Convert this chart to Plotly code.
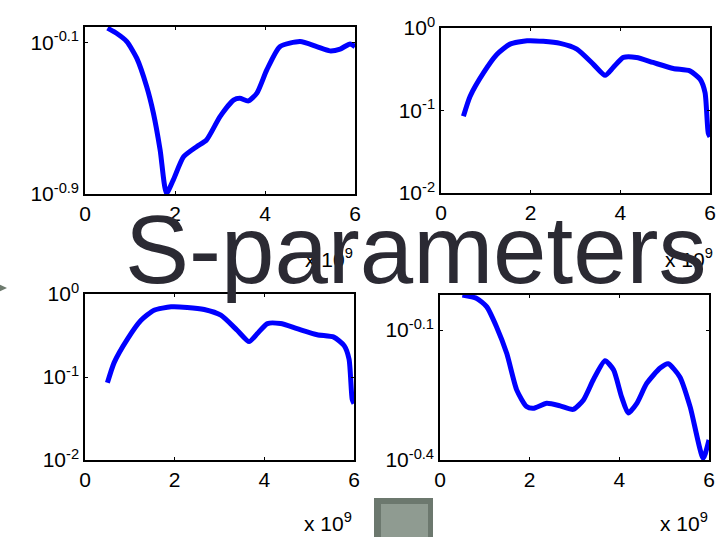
import plotly.graph_objects as go

W, H = 722, 537

# ---------------- data (frequency in units of 1e9 Hz) ----------------
f_s11 = [0.5, 0.7, 0.93, 1.15, 1.37, 1.52, 1.67, 1.81, 1.96, 2.19, 2.48, 2.7, 3.0, 3.3,
         3.44, 3.63, 3.82, 4.04, 4.33, 4.78, 5.15, 5.44, 5.67, 5.89, 6.0]
s11 = [0.948, 0.891, 0.805, 0.658, 0.466, 0.337, 0.215, 0.127, 0.149, 0.198, 0.224, 0.243,
       0.323, 0.395, 0.404, 0.391, 0.430, 0.570, 0.757, 0.805, 0.757, 0.719, 0.735, 0.783, 0.757]

f_s21 = [0.5, 0.65, 0.95, 1.25, 1.54, 1.92, 2.28, 2.66, 3.03, 3.4, 3.66, 3.84, 4.07, 4.36,
         4.73, 5.18, 5.55, 5.78, 5.89, 5.96, 6.0]
s21 = [0.0851, 0.149, 0.288, 0.482, 0.638, 0.700, 0.689, 0.650, 0.555, 0.363, 0.267, 0.332,
       0.440, 0.440, 0.382, 0.323, 0.302, 0.239, 0.164, 0.0537, 0.048]

f_s12 = f_s21
s12 = s21

f_s22 = [0.5, 0.82, 1.04, 1.26, 1.49, 1.71, 1.93, 2.08, 2.38, 2.68, 2.97, 3.2, 3.42, 3.68,
         3.87, 4.05, 4.2, 4.39, 4.61, 4.91, 5.09, 5.35, 5.58, 5.87, 6.0]
s22 = [0.957, 0.940, 0.900, 0.809, 0.701, 0.578, 0.529, 0.524, 0.538, 0.531, 0.521, 0.548,
       0.610, 0.675, 0.643, 0.557, 0.511, 0.538, 0.598, 0.649, 0.664, 0.619, 0.528, 0.402, 0.443]

x_ticks = [0, 2, 4, 6]
x_ticktext = ["0", "2", "4", "6"]
title_text = "S-parameters"
x_mult = "x 10<sup>9</sup>"

# ---------------- layout helpers ----------------
def px(x):
    return x / W

def py(y):
    return 1 - y / H

FONT = "Arial, Liberation Sans, sans-serif"

panels = [
    dict(x=f_s11, y=s11, box=(85, 355, 27, 194), rng=[-0.9, -0.017],
         tv=[10 ** -0.9, 10 ** -0.1], tt=["10<sup>-0.9</sup>", "10<sup>-0.1</sup>"]),
    dict(x=f_s21, y=s21, box=(441, 710, 28, 193), rng=[-2, 0],
         tv=[0.01, 0.1, 1], tt=["10<sup>-2</sup>", "10<sup>-1</sup>", "10<sup>0</sup>"]),
    dict(x=f_s12, y=s12, box=(85, 354, 294, 460), rng=[-2, 0],
         tv=[0.01, 0.1, 1], tt=["10<sup>-2</sup>", "10<sup>-1</sup>", "10<sup>0</sup>"]),
    dict(x=f_s22, y=s22, box=(440, 709, 295, 460), rng=[-0.4, -0.019],
         tv=[10 ** -0.4, 10 ** -0.1], tt=["10<sup>-0.4</sup>", "10<sup>-0.1</sup>"]),
]

fig = go.Figure()
layout = {}
for i, p in enumerate(panels, start=1):
    sfx = "" if i == 1 else str(i)
    xl, xr, yt, yb = p["box"]
    fig.add_trace(go.Scatter(
        x=p["x"], y=p["y"], mode="lines",
        line=dict(color="#0000ff", width=5, shape="spline", smoothing=0.6),
        xaxis="x" + sfx, yaxis="y" + sfx, showlegend=False, hoverinfo="skip"))
    layout["xaxis" + sfx] = dict(
        domain=[px(xl), px(xr)], anchor="y" + sfx, range=[0, 6], automargin=False,
        tickvals=x_ticks, ticktext=x_ticktext, ticks="inside", ticklen=3,
        tickcolor="black", showline=True, linecolor="black", linewidth=1.5,
        mirror="ticks", showgrid=False, zeroline=False,
        tickfont=dict(family=FONT, size=21, color="black"))
    layout["yaxis" + sfx] = dict(
        domain=[py(yb), py(yt)], anchor="x" + sfx, type="log", range=p["rng"],
        automargin=False,
        tickvals=p["tv"], ticktext=p["tt"], ticks="inside", ticklen=3,
        tickcolor="black", showline=True, linecolor="black", linewidth=1.5,
        mirror="ticks", showgrid=False, zeroline=False,
        tickfont=dict(family=FONT, size=21, color="black"))

annotations = []
for (ax, ay) in [(303, 258), (663, 258), (302, 522), (658, 522)]:
    annotations.append(dict(
        x=px(ax), y=py(ay), xref="paper", yref="paper", xanchor="left", yanchor="middle",
        text=x_mult, showarrow=False, font=dict(family=FONT, size=21, color="black")))

annotations.append(dict(
    x=px(416), y=py(249), xref="paper", yref="paper", xanchor="center", yanchor="middle",
    text=title_text, showarrow=False,
    font=dict(family=FONT, size=96, color="#2b2a33")))

shapes = [
    dict(type="path", xref="paper", yref="paper",
         path=f"M {px(-8)} {py(281)} L {px(7)} {py(288)} L {px(-8)} {py(295)} Z",
         fillcolor="#6d7a6e", line=dict(width=0)),
    dict(type="rect", xref="paper", yref="paper",
         x0=px(374), x1=px(433), y0=py(498), y1=py(545),
         fillcolor="#6c786e", line=dict(width=0)),
    dict(type="rect", xref="paper", yref="paper",
         x0=px(381), x1=px(428), y0=py(504), y1=py(545),
         fillcolor="#8f9b91", line=dict(width=0)),
]

fig.update_layout(
    template="none",
    width=W, height=H, margin=dict(l=0, r=0, t=0, b=0, pad=0, autoexpand=False),
    paper_bgcolor="white", plot_bgcolor="white",
    annotations=annotations, shapes=shapes, **layout)

fig.write_html("out.html", config={"displayModeBar": False},
               post_script="document.body.style.margin='0';")
